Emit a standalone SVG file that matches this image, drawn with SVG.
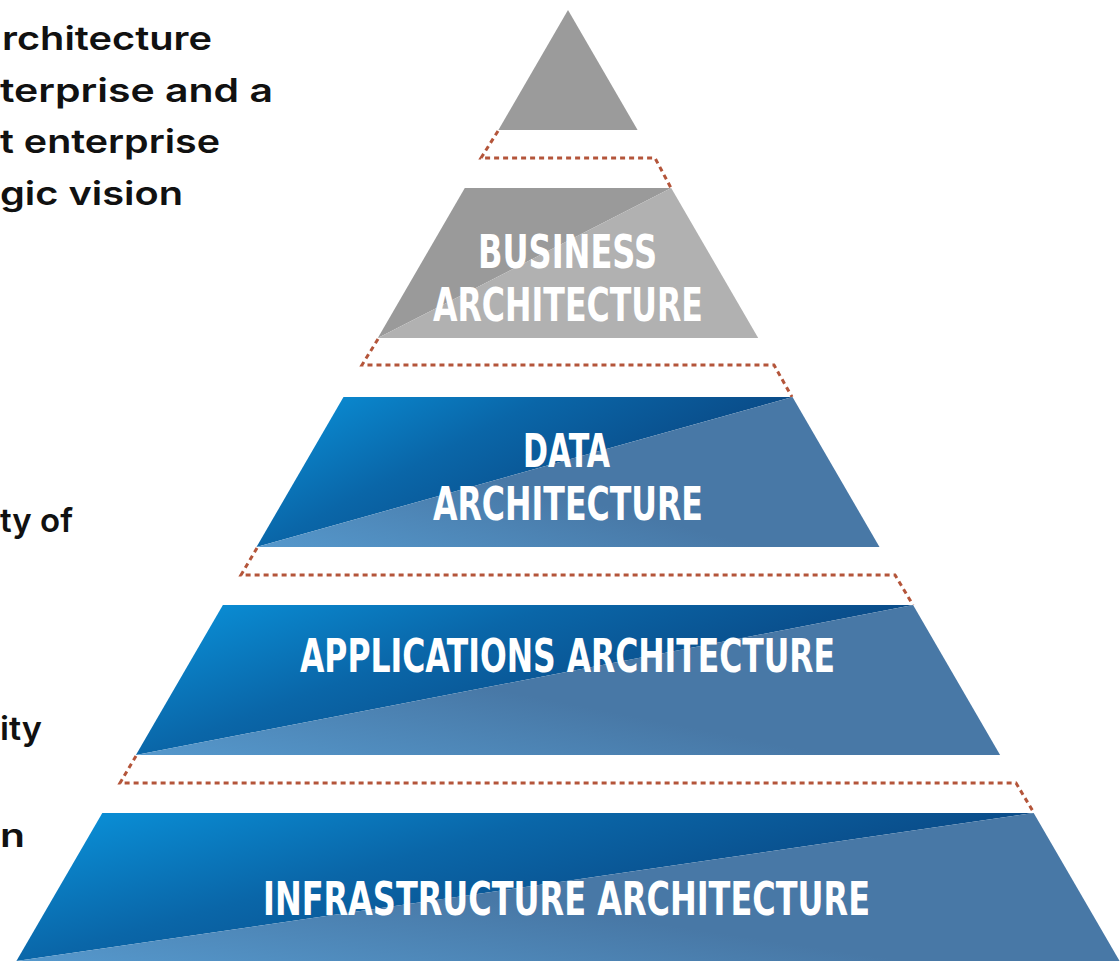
<svg xmlns="http://www.w3.org/2000/svg" width="1120" height="961" viewBox="0 0 1120 961">
<style>
.side{font-family:"Inter","Lato","Liberation Sans",sans-serif;font-weight:600;font-size:33px;fill:#111}
.lbl{font-family:"Liberation Sans Narrow","DejaVu Sans Condensed","Liberation Sans",sans-serif;font-weight:bold;font-size:47px;fill:#ffffff;text-anchor:start}
.dash{fill:none;stroke:#b4553a;stroke-width:3;stroke-dasharray:5 4}
</style>
<defs>
<linearGradient id="gUp" x1="0" y1="0.2" x2="0.75" y2="0.6">
<stop offset="0" stop-color="#0a8bd2"/>
<stop offset="0.45" stop-color="#0a66a8"/>
<stop offset="1" stop-color="#0a4884"/>
</linearGradient>
<linearGradient id="gLo" x1="0" y1="1" x2="0.45" y2="0.6">
<stop offset="0" stop-color="#5598cc"/>
<stop offset="1" stop-color="#4878a6"/>
</linearGradient>
</defs>
<rect width="1120" height="961" fill="#ffffff"/>

<g id="side-text">
<text class="side" x="2" y="50" textLength="210" lengthAdjust="spacingAndGlyphs">rchitecture</text>
<text class="side" x="0" y="102" textLength="273" lengthAdjust="spacingAndGlyphs">terprise and a</text>
<text class="side" x="0" y="153" textLength="220" lengthAdjust="spacingAndGlyphs">t enterprise</text>
<text class="side" x="0" y="205" textLength="183" lengthAdjust="spacingAndGlyphs">gic vision</text>
<text class="side" x="0" y="532" textLength="73" lengthAdjust="spacingAndGlyphs">ty of</text>
<text class="side" x="0" y="740" textLength="42" lengthAdjust="spacingAndGlyphs">ity</text>
<text class="side" x="0" y="847" textLength="25" lengthAdjust="spacingAndGlyphs">n</text>
</g>

<g id="connectors">
<path class="dash" d="M498,131 L481,158 L655,158 L671,188"/>
<path class="dash" d="M378,339 L362,365 L774,365 L792,397"/>
<path class="dash" d="M257,548 L241,575 L895,575 L913,605"/>
<path class="dash" d="M136,756 L120,783 L1016,783 L1034,813"/>
</g>

<g id="apex">
<polygon points="568,10 637.6,130 498.4,130" fill="#9b9b9b"/>
</g>

<g id="business">
<polygon points="464.8,188 671.2,188 377.8,338" fill="#9a9a9a"/>
<polygon points="671.2,188 758.2,338 377.8,338" fill="#b1b1b1"/>
<text class="lbl" x="478" y="268" textLength="179" lengthAdjust="spacingAndGlyphs" fill="#f4f4f4">BUSINESS</text>
<text class="lbl" x="433" y="321" textLength="270" lengthAdjust="spacingAndGlyphs" fill="#f4f4f4">ARCHITECTURE</text>
</g>

<g id="data">
<polygon points="343.5,397 792.5,397 256.5,547" fill="url(#gUp)"/>
<polygon points="792.5,397 879.5,547 256.5,547" fill="url(#gLo)"/>
<text class="lbl" x="523" y="467" textLength="87" lengthAdjust="spacingAndGlyphs">DATA</text>
<text class="lbl" x="433" y="520" textLength="270" lengthAdjust="spacingAndGlyphs">ARCHITECTURE</text>
</g>

<g id="applications">
<polygon points="222.9,605 913.1,605 135.9,755" fill="url(#gUp)"/>
<polygon points="913.1,605 1000.1,755 135.9,755" fill="url(#gLo)"/>
<text class="lbl" x="300" y="672" textLength="535" lengthAdjust="spacingAndGlyphs">APPLICATIONS ARCHITECTURE</text>
</g>

<g id="infrastructure">
<polygon points="102.3,813 1033.7,813 16.4,961" fill="url(#gUp)"/>
<polygon points="1033.7,813 1119.6,961 16.4,961" fill="url(#gLo)"/>
<text class="lbl" x="263" y="915" textLength="607" lengthAdjust="spacingAndGlyphs">INFRASTRUCTURE ARCHITECTURE</text>
</g>
</svg>
